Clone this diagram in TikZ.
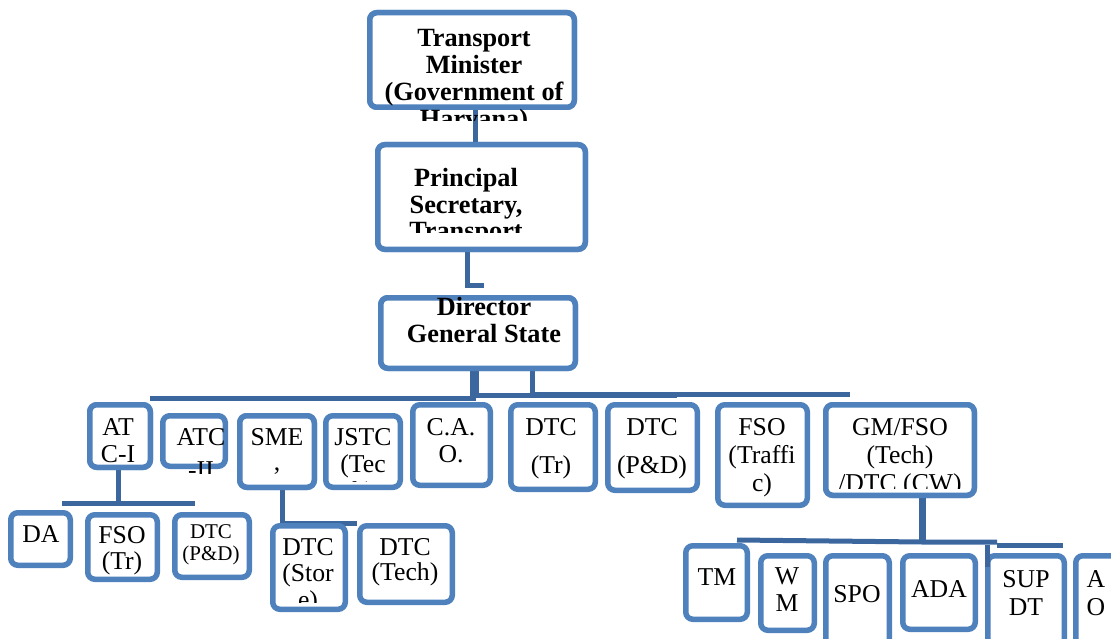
\documentclass[tikz,border=0pt]{standalone}
\usepackage{fontspec}
\setmainfont{Liberation Serif}
\usetikzlibrary{calc}

\definecolor{boxblue}{RGB}{79,129,189}
\definecolor{linkblue}{RGB}{60,103,158}

\tikzset{
  orgbox/.style={draw=boxblue, line width=5.5pt, rounded corners=7pt, fill=white, inner sep=0pt},
  link/.style={draw=linkblue, line width=5pt},
  plain/.style={font=\fontsize{25.7pt}{28pt}\selectfont, inner sep=0pt, anchor=base, text=black},
  heavy/.style={font=\fontsize{26.3pt}{28pt}\selectfont\bfseries, inner sep=0pt, anchor=base, text=black},
  small/.style={font=\fontsize{21pt}{23pt}\selectfont, inner sep=0pt, anchor=base, text=black}
}

% box given by its outer corners: name, x1, y1, x2, y2
\newcommand\orgbox[5]{%
  \node[orgbox, minimum width={#4-#2-5.5}, minimum height={#5-#3-5.5}]
    (#1) at ({(#2+#4)/2},{(#3+#5)/2}) {};}

% box text: name, style, x, first baseline, line step, lines, lower clip edge
\newcommand\orgtext[7]{%
  \begin{scope}
    \clip (0,0) rectangle (1111,#7);
    \foreach [count=\i] \lineitem in {#6}
      \node[#2] (#1-\i) at ({#3},{#4+(\i-1)*(#5)}) {\lineitem};
  \end{scope}}

\begin{document}
\begin{tikzpicture}[x=1pt,y=-1pt]
\useasboundingbox (0,0) rectangle (1111,639);
\clip (0,0) rectangle (1111,639);

% ---------- connectors ----------
\coordinate (psdg) at (484,285);
\coordinate (barA) at (150,398);
\coordinate (barB) at (476,398);
\coordinate (barC) at (474,395);
\coordinate (barD) at (677,395);
\coordinate (barE) at (530,394);
\coordinate (barF) at (850,394);
\coordinate (atcL) at (62,503.5);
\coordinate (atcR) at (195,503.5);
\coordinate (smeR) at (357,523);
\coordinate (gmA) at (737,540);
\coordinate (gmB) at (922,542);
\coordinate (gmC) at (997,542);
\coordinate (gmD) at (997,545);
\coordinate (gmE) at (1063,545);
\coordinate (gmS) at (987,545);
\coordinate (gmT) at (987,567);

% box outlines are placed first so the links can refer to them
\orgbox{tm}{367}{10}{577}{110}
\orgbox{ps}{375}{142}{588}{252}
\orgbox{dg}{378}{295}{578}{371}
\orgbox{atc1}{87}{402}{153}{470}
\orgbox{sme}{237}{413}{317}{490}
\orgbox{gm}{823}{402}{977}{498}

\draw[link] ([xshift=3pt]tm.south) -- ([xshift=3pt]tm.south |- ps.north);
\draw[link] ([xshift=-14.5pt]ps.south) |- (psdg);
\draw[link, line width=9pt] ([xshift=-3.5pt]dg.south) -- ([xshift=-3.5pt]dg.south |- barA);
\draw[link] ([xshift=54pt]dg.south) -- ([xshift=54pt]dg.south |- barE);
\draw[link] (barA) -- (barB);
\draw[link] (barC) -- (barD);
\draw[link] (barE) -- (barF);
\draw[link] ([xshift=-2pt]atc1.south) -- ([xshift=-2pt]atc1.south |- atcL);
\draw[link] (atcL) -- (atcR);
\draw[link] ([xshift=5pt]sme.south) |- (smeR);
\draw[link, line width=7pt] ([xshift=22pt]gm.south) -- ([xshift=22pt]gm.south |- gmB);
\draw[link] (gmA) -- (gmB) -- (gmC);
\draw[link] (gmD) -- (gmE);

% ---------- boxes ----------
\orgbox{tm}{367}{10}{577}{110}
\orgbox{ps}{375}{142}{588}{252}
\orgbox{dg}{378}{295}{578}{371}

\orgbox{atc1}{87}{402}{153}{470}
\orgbox{atc2}{160}{413}{228}{469}
\orgbox{sme}{237}{413}{317}{490}
\orgbox{jstc}{323}{413}{403}{490}
\orgbox{cao}{410}{402}{493}{488}
\orgbox{dtctr}{508}{402}{598}{492}
\orgbox{dtcpd}{605}{402}{700}{493}
\orgbox{fsot}{715}{402}{810}{508}
\orgbox{gm}{823}{402}{977}{498}

\orgbox{da}{8}{510}{73}{568}
\orgbox{fsotr}{85}{512}{160}{582}
\orgbox{dtcpdb}{172}{512}{252}{580}
\orgbox{dtcst}{270}{523}{348}{612}
\orgbox{dtcte}{357}{523}{455}{605}

\orgbox{tmb}{683}{543}{750}{622}
\orgbox{wm}{758}{553}{817}{633}
\orgbox{spo}{823}{553}{892}{660}
\orgbox{ada}{900}{553}{978}{632}
\orgbox{sup}{985}{553}{1067}{660}
\orgbox{ao}{1073}{553}{1140}{660}

% the stub into SUP DT runs over its top edge
\draw[link] (gmS) -- (gmT);

% ---------- texts ----------
\orgtext{tmt}{heavy}{474}{47}{27}{{Transport},{Minister},{(Government of},{Haryana)}}{121}
\orgtext{pst}{heavy}{466}{187}{26.5}{{Principal},{Secretary,},{Transport}}{233}
\orgtext{dgt}{heavy}{484}{315}{27}{{Director},{General State}}{343}

\orgtext{atc1t}{plain}{118}{435}{27}{{AT},{C-I}}{639}
\orgtext{atc2t}{plain}{201}{445}{33}{{ATC},{-II}}{473}
\orgtext{smet}{plain}{277}{445}{25}{{SME},{,}}{639}
\orgtext{jstct}{plain}{363}{445}{27}{{JSTC},{(Tec},{h)}}{481}
\orgtext{caot}{plain}{451}{435}{27}{{C.A.},{O.}}{639}
\orgtext{dtctrt}{plain}{551}{435}{38}{{DTC},{(Tr)}}{639}
\orgtext{dtcpdt}{plain}{652}{435}{38}{{DTC},{(P\&D)}}{639}
\orgtext{fsott}{plain}{762}{435}{28}{{FSO},{(Traffi},{c)}}{639}
\orgtext{gmt}{plain}{900}{435}{28}{{GM/FSO},{(Tech)},{/DTC (CW)}}{488}

\orgtext{dat}{plain}{41}{542}{27}{{DA}}{639}
\orgtext{fsotrt}{plain}{122}{543}{26}{{FSO},{(Tr)}}{639}
\orgtext{dtcpdbt}{small}{211}{538}{22}{{DTC},{(P\&D)}}{639}
\orgtext{dtcstt}{plain}{308}{555}{26.5}{{DTC},{(Stor},{e)}}{602}
\orgtext{dtctet}{plain}{405}{555}{25}{{DTC},{(Tech)}}{639}

\orgtext{tmbt}{plain}{717}{585}{27}{{TM}}{639}
\orgtext{wmt}{plain}{787}{584}{27}{{W},{M}}{639}
\orgtext{spot}{plain}{857}{602}{27}{{SPO}}{639}
\orgtext{adat}{plain}{939}{597}{27}{{ADA}}{639}
\orgtext{supt}{plain}{1026}{587}{28}{{SUP},{DT}}{639}
\orgtext{aot}{plain}{1096}{587}{28}{{A},{O}}{639}
\end{tikzpicture}
\end{document}
